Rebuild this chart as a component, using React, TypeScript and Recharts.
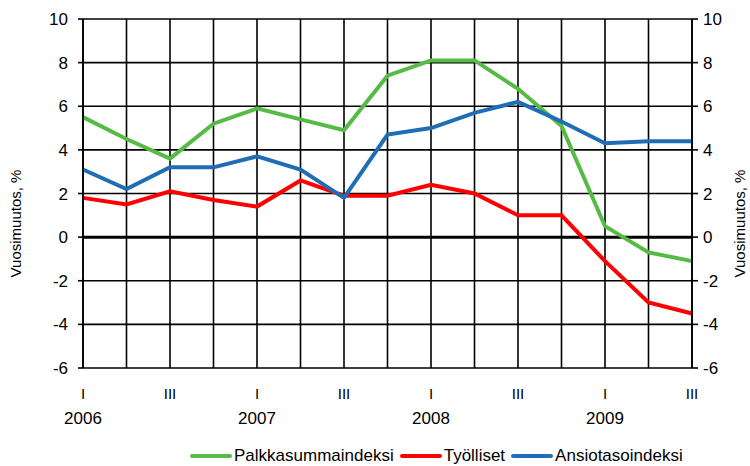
import { LineChart, Line, XAxis, YAxis, CartesianGrid, ReferenceLine, Legend } from 'recharts'

const periods = [
  '2006 I', '2006 II', '2006 III', '2006 IV',
  '2007 I', '2007 II', '2007 III', '2007 IV',
  '2008 I', '2008 II', '2008 III', '2008 IV',
  '2009 I', '2009 II', '2009 III'
]
const shownQuarters = ['I', 'III']
const palkkasumma = [5.5, 4.5, 3.6, 5.2, 5.9, 5.4, 4.9, 7.4, 8.1, 8.1, 6.8, 5.1, 0.5, -0.7, -1.1]
const tyolliset = [1.8, 1.5, 2.1, 1.7, 1.4, 2.6, 1.9, 1.9, 2.4, 2.0, 1.0, 1.0, -1.1, -3.0, -3.5]
const ansiotaso = [3.1, 2.2, 3.2, 3.2, 3.7, 3.1, 1.8, 4.7, 5.0, 5.7, 6.2, 5.3, 4.3, 4.4, 4.4]
const yTicks = [-6, -4, -2, 0, 2, 4, 6, 8, 10]

// both axes share the same scale; the blue series sits on the right one so that axis gets drawn
const series = [
  { key: 'palkka', name: 'Palkkasummaindeksi', color: '#55bb44', axis: 'left' },
  { key: 'tyol', name: 'Työlliset', color: '#ff0000', axis: 'left' },
  { key: 'ansio', name: 'Ansiotasoindeksi', color: '#1f6db5', axis: 'right' }
]

const chartData = periods.map((p, i) => ({
  period: p,
  palkka: palkkasumma[i],
  tyol: tyolliset[i],
  ansio: ansiotaso[i]
}))

const font = 'Liberation Sans, Arial, sans-serif'

function QuarterTick(props: any) {
  const { x, y, payload } = props
  const [year, q] = String(payload.value).split(' ')
  if (!shownQuarters.includes(q)) return null
  return (
    <g>
      <text x={x} y={y + 31} textAnchor="middle" fontSize={15} fontFamily={font} fill="#000">{q}</text>
      {q === 'I' && (
        <text x={x} y={y + 56} textAnchor="middle" fontSize={17} fontFamily={font} fill="#000">{year}</text>
      )}
    </g>
  )
}

function ChartLegend() {
  return (
    <div style={{ display: 'flex', alignItems: 'center', height: 38, paddingLeft: 190, fontFamily: font, fontSize: 17, color: '#000', boxSizing: 'border-box', paddingTop: 18 }}>
      {series.map((s) => (
        <div key={s.key} style={{ display: 'flex', alignItems: 'center', marginRight: 6 }}>
          <div style={{ width: 42, height: 4, background: s.color, marginRight: 2, borderRadius: 2 }} />
          <span>{s.name}</span>
        </div>
      ))}
    </div>
  )
}

export default function App() {
  return (
    <div style={{ position: 'absolute', left: 0, top: 0, width: 750, height: 466, background: '#fff' }}>
      <LineChart width={750} height={466} data={chartData} margin={{ top: 19, right: 0, left: 0, bottom: 0 }}>
        <CartesianGrid yAxisId="left" stroke="#000" strokeWidth={1.6} />
        <XAxis dataKey="period" interval={0} tickLine={false} axisLine={false} tickSize={0} tickMargin={0} height={60} tick={<QuarterTick />} />
        <YAxis
          yAxisId="left"
          orientation="left"
          domain={[-6, 10]}
          ticks={yTicks}
          width={83}
          tickSize={5}
          tickMargin={10}
          stroke="#000"
          strokeWidth={1.6}
          tick={{ fill: '#000', fontSize: 17, fontFamily: font }}
          label={{ value: 'Vuosimuutos, %', angle: -90, position: 'center', dx: -26, dy: 30, fill: '#000', fontSize: 15, fontFamily: font }}
        />
        <YAxis
          yAxisId="right"
          orientation="right"
          domain={[-6, 10]}
          ticks={yTicks}
          width={58}
          tickSize={6}
          tickMargin={5}
          stroke="#000"
          strokeWidth={1.6}
          tick={{ fill: '#000', fontSize: 17, fontFamily: font }}
          label={{ value: 'Vuosimuutos, %', angle: -90, position: 'center', dx: 19, dy: 30, fill: '#000', fontSize: 15, fontFamily: font }}
        />
        <ReferenceLine yAxisId="left" y={0} stroke="#000" strokeWidth={3} />
        {series.map((s) => (
          <Line
            key={s.key}
            yAxisId={s.axis}
            type="linear"
            dataKey={s.key}
            name={s.name}
            stroke={s.color}
            strokeWidth={4}
            dot={false}
            isAnimationActive={false}
          />
        ))}
        <Legend verticalAlign="bottom" content={<ChartLegend />} />
      </LineChart>
    </div>
  )
}
